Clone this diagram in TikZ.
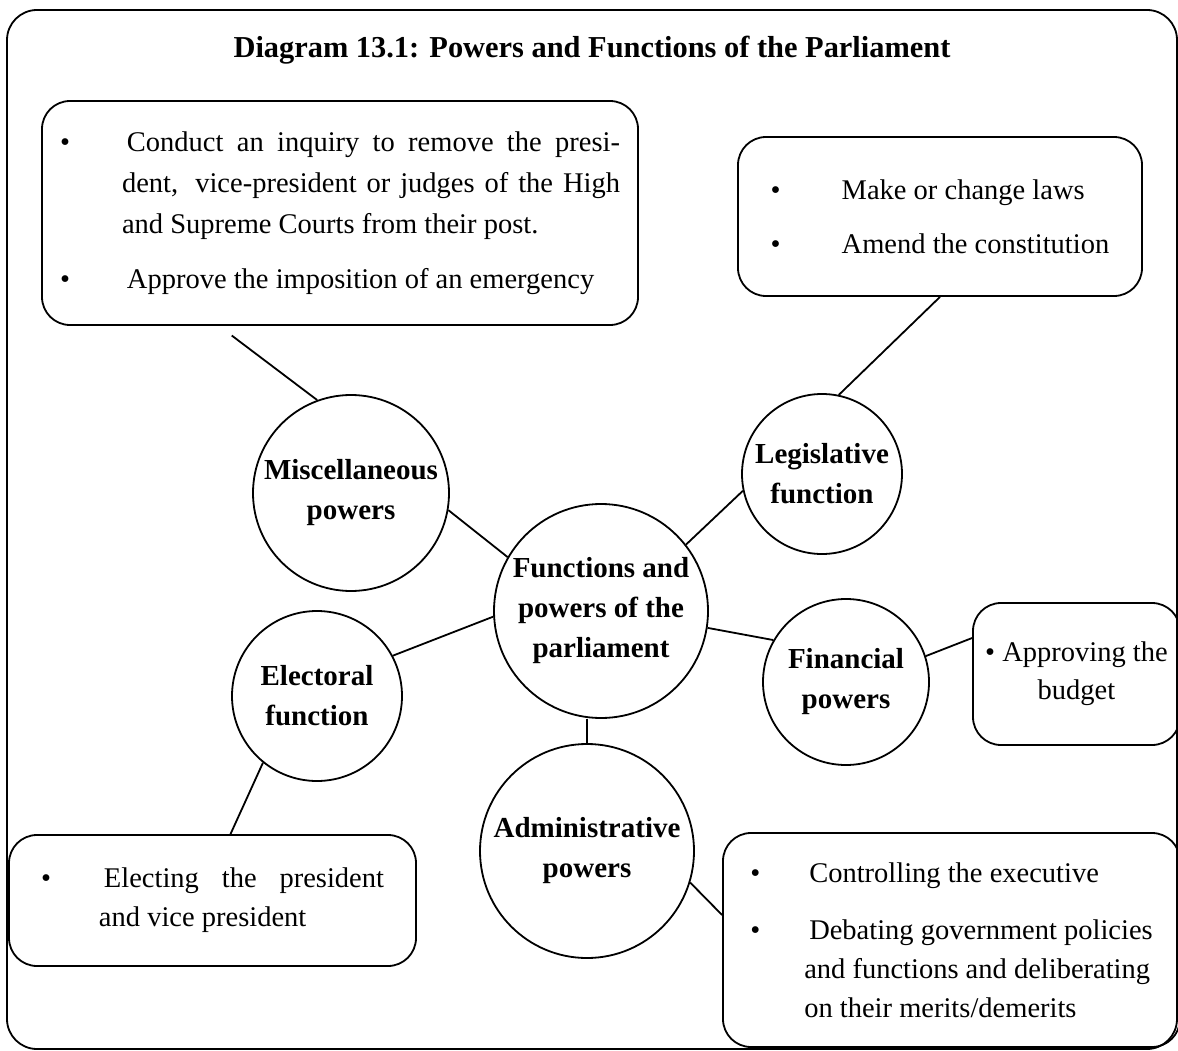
\documentclass[tikz,border=0pt]{standalone}
\usepackage{fontspec}
\setmainfont{Liberation Serif}
\usepackage{tikz}
\tikzstyle{topic}=[circle, draw=black, line width=1.8pt, inner sep=0pt,
        align=center, font=\fontsize{29}{40}\selectfont\bfseries]
\tikzstyle{notes}=[rectangle, draw=black, line width=1.8pt, rounded corners=28pt,
        inner sep=0pt, align=left, font=\fontsize{28.5}{41}\selectfont]
\tikzstyle{myline}=[line width=1.8pt]
\newcommand{\bul}[1]{\makebox[#1][l]{\textbullet}}

\begin{document}
\begin{tikzpicture}[x=1pt, y=-1pt]
	\useasboundingbox (0,0) rectangle (1178,1051);
	\draw[line width=1.8pt, rounded corners=30pt] (7,10) rectangle (1177,1049);

	\node (title) at (592,50) {\fontsize{30.4}{36}\selectfont\bfseries Diagram 13.1: Powers and Functions of the Parliament};

	% circles
	\node (Parliament) [topic, minimum size=214pt] at (601,611) {Functions and\\powers of the\\parliament};
	\node (Misc) [topic, minimum size=196pt] at (351,493) {Miscellaneous\\powers};
	\node (Legis) [topic, minimum size=160pt] at (822,474) {Legislative\\function};
	\node (Finance) [topic, minimum size=166pt] at (846,682) {Financial\\powers};
	\node (Elect) [topic, minimum size=170pt] at (317,696) {Electoral\\function};
	\node (Admin) [topic, minimum size=214pt] at (587,851) {Administrative\\powers};

	% boxes
	\node (mbox) [notes, minimum width=596pt, minimum height=224pt] at (340,213)
        {
            \bul{67pt}\makebox[493pt][s]{Conduct an inquiry to remove the presi-}\\
            \hspace*{62pt}\makebox[498pt][s]{dent,\hspace{0.6em}vice-president or judges of the High}\\
            \hspace*{62pt}and Supreme Courts from their post.\\[14pt]
            \bul{67pt}Approve the imposition of an emergency
        };
	\node (lbox) [notes, minimum width=404pt, minimum height=159pt,
        font=\fontsize{28.5}{54}\selectfont] at (940,216.5)
        {
            \bul{71pt}Make or change laws\\
            \bul{71pt}Amend the constitution
        };
	\node (fbox) [notes, minimum width=207pt, minimum height=142pt, align=center,
        font=\fontsize{28.5}{38}\selectfont] at (1076.5,674)
        {
            \textbullet\ Approving the\\budget
        };
	\node (ebox) [notes, minimum width=407pt, minimum height=131pt,
        font=\fontsize{28.5}{39}\selectfont] at (212.5,900.5)
        {
            \bul{63pt}\makebox[280pt][s]{Electing the president}\\
            \hspace*{58pt}and vice president
        };
	\node (abox) [notes, minimum width=457pt, minimum height=214pt,
        font=\fontsize{28.5}{39}\selectfont] at (951.5,940)
        {
            \bul{59pt}Controlling the executive\\[18pt]
            \bul{59pt}Debating government policies\\
            \hspace*{54pt}and functions and deliberating\\
            \hspace*{54pt}on their merits/demerits
        };

	% connectors
	\draw[myline, shorten <=16pt] ([xshift=-121pt]mbox.south) -- (Misc.110);
	\draw[myline] (lbox.south) -- (Legis.78);
	\draw[myline] (Misc.-10) -- (Parliament.150);
	\draw[myline] (Parliament.38) -- (Legis.192);
	\draw[myline] (Parliament.-9) -- (Finance.150);
	\draw[myline] (Finance.18) -- ([yshift=36pt]fbox.west);
	\draw[myline] (Parliament.183) -- (Elect.28);
	\draw[myline] (Elect.231) -- ([xshift=18pt]ebox.north);
	\draw[myline] (Admin.north) -- (Admin.north |- Parliament.south);
	\draw[myline] (Admin.-17) -- ([yshift=25pt]abox.west);

\end{tikzpicture}
\end{document}
